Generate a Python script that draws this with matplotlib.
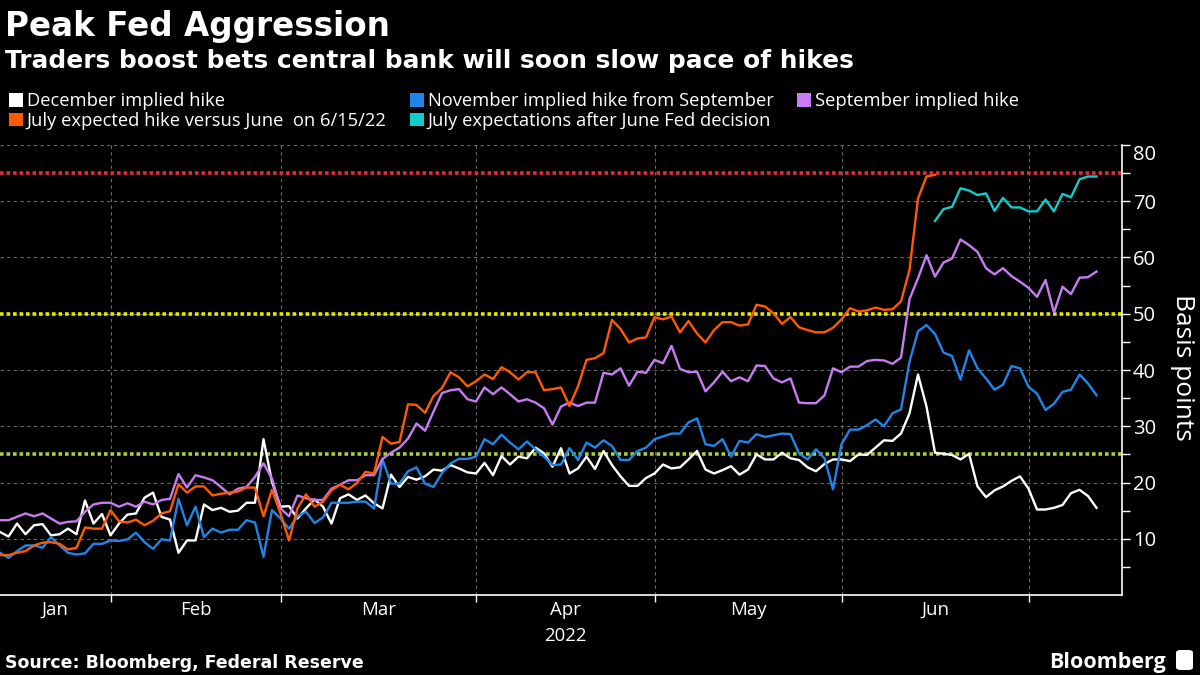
import numpy as np
import pandas as pd
import matplotlib
matplotlib.use("Agg")
from matplotlib import pyplot as plt
from matplotlib.patches import Patch, FancyBboxPatch

plt.rcParams['font.family'] = ['Open Sans', 'DejaVu Sans']

# weekday series, 13 Jan 2022 .. 13 Jul 2022
dates = pd.bdate_range('2022-01-13', '2022-07-13')

december = [11.2, 10.4, 12.7, 10.8, 12.4, 12.6, 10.6, 10.8, 11.8, 10.8,
            16.8, 12.7, 14.4, 10.6, 12.7, 14.3, 14.5, 17.3, 18.2, 13.9,
            13.4, 7.5, 9.7, 9.7, 16.1, 15.1, 15.5, 14.8, 15.0, 16.4,
            16.4, 27.7, 20.1, 15.7, 15.8, 13.6, 15.4, 17.0, 15.7, 12.7,
            17.2, 17.9, 16.9, 17.7, 16.3, 15.4, 21.4, 19.2, 21.0, 20.5,
            21.1, 22.3, 22.1, 23.1, 22.5, 21.8, 21.6, 23.5, 21.3, 24.7,
            23.2, 24.6, 24.3, 26.2, 25.2, 22.8, 26.1, 21.6, 22.5, 24.6,
            22.4, 25.6, 23.1, 21.1, 19.4, 19.4, 20.8, 21.6, 23.2, 22.5,
            22.7, 24.1, 25.6, 22.3, 21.6, 22.2, 22.9, 21.4, 22.3, 25.0,
            24.1, 24.1, 25.3, 24.3, 24.0, 22.7, 22.0, 23.3, 24.1, 24.1,
            23.8, 25.0, 24.9, 26.2, 27.5, 27.4, 28.7, 32.3, 39.2, 33.5,
            25.3, 25.1, 24.9, 24.1, 25.1, 19.3, 17.4, 18.6, 19.3, 20.3,
            21.1, 18.9, 15.2, 15.2, 15.5, 16.0, 18.1, 18.7, 17.6, 15.5]

november = [7.5, 6.6, 7.8, 8.8, 8.8, 8.4, 10.3, 8.8, 7.5, 7.2,
            7.4, 9.1, 9.1, 9.7, 9.6, 9.9, 11.1, 9.4, 8.2, 9.9,
            9.7, 17.1, 12.4, 15.7, 10.3, 11.8, 11.1, 11.6, 11.6, 13.3,
            12.9, 6.8, 15.1, 13.6, 11.8, 14.0, 14.8, 12.8, 13.8, 16.4,
            16.4, 16.4, 16.6, 16.6, 15.4, 24.1, 19.8, 19.8, 22.0, 22.7,
            19.8, 19.2, 21.7, 23.4, 24.2, 24.2, 24.6, 27.7, 26.8, 28.5,
            27.1, 25.9, 27.3, 25.9, 24.6, 23.1, 23.2, 26.1, 24.0, 27.1,
            26.2, 27.5, 26.5, 24.0, 24.0, 25.6, 26.2, 27.7, 28.2, 28.7,
            28.7, 30.7, 31.4, 26.8, 26.5, 27.7, 24.6, 27.4, 27.1, 28.6,
            28.1, 28.4, 28.7, 28.6, 25.2, 24.1, 25.9, 24.3, 18.8, 26.8,
            29.4, 29.4, 30.2, 31.2, 30.0, 32.3, 33.0, 41.5, 46.9, 48.0,
            46.4, 43.1, 42.5, 38.3, 43.5, 40.3, 38.5, 36.5, 37.4, 40.7,
            40.3, 37.0, 35.8, 32.9, 34.0, 36.1, 36.5, 39.2, 37.6, 35.5]

september = [13.3, 13.3, 13.9, 14.5, 14.0, 14.5, 13.6, 12.7, 13.0, 13.1,
             14.8, 16.1, 16.4, 16.4, 15.7, 16.3, 15.7, 16.6, 16.1, 16.9,
             17.1, 21.5, 19.1, 21.3, 20.9, 20.4, 19.2, 17.9, 18.9, 19.2,
             21.0, 23.4, 20.7, 15.4, 14.0, 17.7, 17.2, 16.9, 16.9, 18.9,
             19.6, 20.4, 20.4, 21.3, 21.3, 24.2, 25.3, 26.2, 27.8, 30.5,
             29.2, 32.6, 35.9, 36.4, 36.6, 34.8, 34.4, 36.9, 35.7, 36.9,
             35.7, 34.4, 34.8, 34.2, 33.2, 30.3, 33.5, 34.2, 33.6, 34.2,
             34.2, 39.5, 39.2, 40.3, 37.2, 39.7, 39.5, 41.8, 41.2, 44.3,
             40.2, 39.6, 39.7, 36.2, 37.8, 39.7, 38.0, 38.7, 38.0, 40.8,
             40.7, 38.5, 37.8, 38.5, 34.2, 34.1, 34.1, 35.5, 40.3, 39.6,
             40.6, 40.6, 41.6, 41.8, 41.7, 41.1, 42.2, 52.6, 56.3, 60.4,
             56.6, 59.1, 59.8, 63.2, 62.2, 61.0, 58.1, 57.0, 58.1, 56.7,
             55.7, 54.6, 53.0, 56.0, 50.2, 54.8, 53.5, 56.4, 56.5, 57.5]

# July hike priced versus June, ends 6/15/22
july_vs_june = [7.1, 7.1, 7.5, 7.8, 8.8, 9.3, 9.4, 9.1, 8.1, 8.4,
                12.0, 11.8, 11.8, 15.1, 13.1, 12.9, 13.4, 12.4, 13.2, 14.5,
                14.9, 19.7, 18.2, 19.3, 19.3, 17.7, 18.0, 18.2, 18.4, 19.1,
                19.1, 14.0, 18.7, 14.5, 9.7, 15.4, 17.9, 15.7, 16.6, 18.6,
                19.6, 18.8, 19.9, 21.9, 21.6, 28.1, 26.9, 27.2, 33.9, 33.8,
                32.4, 35.4, 36.8, 39.6, 38.7, 37.1, 38.0, 39.2, 38.4, 40.5,
                39.6, 38.3, 39.6, 39.6, 36.4, 36.6, 36.9, 33.6, 37.1, 41.8,
                42.1, 43.0, 48.9, 47.3, 44.9, 45.6, 45.8, 49.4, 49.0, 49.5,
                46.7, 48.7, 46.5, 44.9, 47.1, 48.5, 48.5, 47.9, 48.1, 51.6,
                51.3, 50.1, 48.2, 49.4, 47.6, 47.1, 46.7, 46.7, 47.5, 49.0,
                51.0, 50.4, 50.6, 51.1, 50.7, 50.8, 52.2, 57.8, 70.5, 74.4,
                74.7]

# July after the June decision, starts where the series above stops
july_after = [66.5, 68.6, 69.0, 72.3, 71.9, 71.1, 71.4, 68.3, 70.6, 68.9,
              68.9, 68.2, 68.2, 70.3, 68.2, 71.3, 70.7, 73.9, 74.4, 74.4]

ref_levels = [75, 50, 25]
ref_colors = ['#e8283c', '#e6e600', '#a8d040']

labels = ['December implied hike',
          'July expected hike versus June  on 6/15/22',
          'November implied hike from September',
          'July expectations after June Fed decision',
          'September implied hike']
colors = ['#ffffff', '#ff5a00', '#1f86e8', '#12cccc', '#c77cf2']

x = np.arange(len(dates))
x_jv = x[:len(july_vs_june)]
x_ja = x[len(july_vs_june) - 1:len(july_vs_june) - 1 + len(july_after)]

fig = plt.figure(figsize=(12, 6.75), dpi=100, facecolor='black')
ax = fig.add_axes([0, 0.1185, 0.935, 0.6667])
ax.set_facecolor('black')

for lvl, c in zip(ref_levels, ref_colors):
    ax.axhline(lvl, color=c, lw=2.6, ls=(0, (1, 0.8)), zorder=2)

lw = 1.7
ax.plot(x, december, color=colors[0], lw=lw, zorder=3)
ax.plot(x, november, color=colors[2], lw=lw, zorder=3)
ax.plot(x, september, color=colors[4], lw=lw, zorder=3)
ax.plot(x_jv, july_vs_june, color=colors[1], lw=lw, zorder=3)
ax.plot(x_ja, july_after, color=colors[3], lw=lw, zorder=3)

# month gridlines / labels
month_starts = [i for i in range(1, len(dates)) if dates[i].month != dates[i - 1].month]
bounds = [0] + month_starts
mids = [(bounds[k] + bounds[k + 1]) / 2 for k in range(len(bounds) - 1)]
ax.set_xlim(0, 132)
ax.set_xticks(month_starts)
ax.set_xticklabels([''] * len(month_starts))
ax.set_xticks(mids, minor=True)
ax.set_xticklabels([dates[b].strftime('%b') for b in bounds[:-1]], minor=True)
ax.tick_params(axis='x', which='major', length=5, color='white', width=1)
ax.tick_params(axis='x', which='minor', length=0, pad=4, labelsize=13.4, labelcolor='white')

ax.set_ylim(0, 80)
ax.yaxis.tick_right()
ax.set_yticks(np.arange(10, 81, 10))
ax.set_yticks(np.arange(5, 80, 10), minor=True)
ax.tick_params(axis='y', which='both', length=6, color='white', width=1,
               labelsize=14.5, labelcolor='white', pad=2)
ax.get_yticklabels()[-1].set_va('top')

ax.grid(True, which='major', color='#6a6a6a', ls=(0, (3, 3)), lw=0.8)
for s in ['left', 'top']:
    ax.spines[s].set_visible(False)
for s in ['right', 'bottom']:
    ax.spines[s].set_color('white')
    ax.spines[s].set_linewidth(1.2)

ax.text(mids[3], -0.07, str(dates[0].year), transform=ax.get_xaxis_transform(),
        ha='center', va='top', color='white', fontsize=13.4)

fig.text(1183 / 1200, 1 - 367 / 675, 'Basis points', rotation=270, ha='center',
         va='center', color='white', fontsize=19)

fig.text(5 / 1200, 1 - 36 / 675, 'Peak Fed Aggression', color='white',
         fontsize=23.5, weight='bold', va='baseline', family='DejaVu Sans')
fig.text(5 / 1200, 1 - 68 / 675, 'Traders boost bets central bank will soon slow pace of hikes',
         color='white', fontsize=17.9, weight='bold', va='baseline', family='DejaVu Sans')

handles = [Patch(facecolor=c, edgecolor='none') for c in colors]
fig.legend(handles, labels, ncol=3, loc='upper left', bbox_to_anchor=(0.003, 1 - 87 / 675),
           frameon=False, fontsize=13.2, labelcolor='white', handlelength=0.75,
           handleheight=0.75, handletextpad=0.2, labelspacing=0.08,
           columnspacing=1.3, borderaxespad=0, borderpad=0.3)

fig.text(5 / 1200, 1 - 668 / 675, 'Source: Bloomberg, Federal Reserve', color='white',
         fontsize=12.5, weight='bold', va='baseline', family='DejaVu Sans')
fig.text(1166 / 1200, 1 - 668 / 675, 'Bloomberg', color='white', fontsize=15.5,
         weight='bold', va='baseline', ha='right')
fig.patches.append(FancyBboxPatch((1176 / 1200, 1 - 670 / 675), 17 / 1200, 20 / 675,
                                  boxstyle='round,pad=0,rounding_size=0.004',
                                  transform=fig.transFigure, facecolor='white',
                                  edgecolor='none'))

fig.savefig('out.png', dpi=100, facecolor='black')
